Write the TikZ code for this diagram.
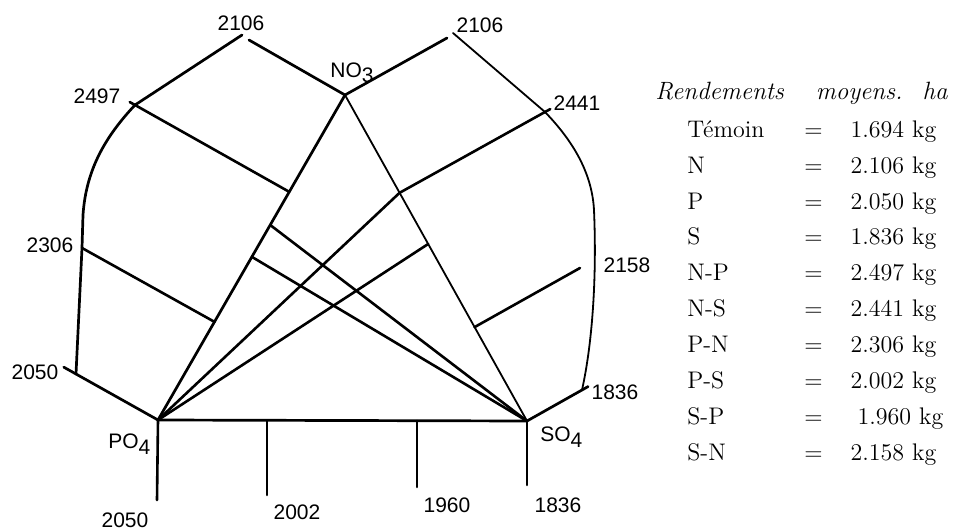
\documentclass[tikz,border=0pt]{standalone}
\usepackage{fontspec}
\newfontfamily\handfont{Liberation Sans}
\usetikzlibrary{calc}

\begin{document}
\begin{tikzpicture}[x=0.5pt,y=-0.5pt,line cap=round,line join=round,
    frame/.style={line width=1.35pt},
    ray/.style={line width=1.3pt},
    thinside/.style={line width=0.9pt},
    yieldlbl/.style={font=\handfont\fontsize{10.5}{12}\selectfont,inner sep=0pt},
    ionlbl/.style={font=\handfont\fontsize{10.5}{12}\selectfont,inner sep=0pt,anchor=base west}]
  \useasboundingbox (0,0) rectangle (955,530);
  %% Triangle NO3 / PO4 / SO4
  \coordinate (no3) at (345,95);
  \coordinate (po4) at (158,420);
  \coordinate (so4) at (527,421);
  %% Points on the sides
  \coordinate (np1) at ($(no3)!0.298!(po4)$);
  \coordinate (np2) at ($(no3)!0.40!(po4)$);
  \coordinate (np3) at ($(no3)!0.498!(po4)$);
  \coordinate (np4) at ($(no3)!0.698!(po4)$);
  \coordinate (ns1) at ($(no3)!0.30!(so4)$);
  \coordinate (ns2) at ($(no3)!0.457!(so4)$);
  \coordinate (ns3) at ($(no3)!0.712!(so4)$);
  \coordinate (ps1) at (267,421);
  \coordinate (ps2) at (417,421);
  %% Outer points
  \coordinate (nLeft) at (249,40);
  \coordinate (nLeftB) at (242,35);
  \coordinate (nRight) at (447,38);
  \coordinate (nRightB) at (453,33);
  \coordinate (npOut) at (135,105);
  \coordinate (pnOut) at (82,248);
  \coordinate (pOut) at (76,374);
  \coordinate (nsOut) at (545,112);
  \coordinate (snOut) at (580,268);
  \coordinate (sOut) at (582,390);
  \coordinate (pDown) at (157,500);
  \coordinate (ps1Down) at (267,495);
  \coordinate (ps2Down) at (417,487);
  \coordinate (sDown) at (527,485);

  %% Sides
  \draw[frame] (po4) -- (no3);
  \draw[thinside] (no3) -- (so4);
  \draw[frame] (po4) -- (so4);
  %% Outline
  \draw[frame] (no3) -- (nLeft);
  \draw[frame] (nLeftB) -- (npOut)
    .. controls (105,137) and (86,170) .. (83,215) -- (pnOut) -- (pOut);
  \draw[frame,shorten >=-7pt] (po4) -- (pOut);
  \draw[frame] (no3) -- (nRight);
  \draw[thinside] (nRightB) -- (nsOut)
    .. controls (572,140) and (592,172) .. (594,210)
    .. controls (597,280) and (592,345) .. (sOut);
  \draw[frame,shorten >=-3.5pt] (so4) -- (sOut);
  %% Rays to the outline
  \draw[ray,shorten >=-3pt] (np1) -- (npOut);
  \draw[ray] (np4) -- (pnOut);
  \draw[ray,shorten >=-3pt] (ns1) -- (nsOut);
  \draw[ray] (ns3) -- (snOut);
  %% Crossing rays
  \draw[ray] (po4) -- (ns1);
  \draw[ray] (po4) -- (ns2);
  \draw[ray] (so4) -- (np2);
  \draw[ray] (so4) -- (np3);
  %% Bottom ticks
  \draw[ray] (po4) -- (pDown);
  \draw[ray] (ps1) -- (ps1Down);
  \draw[ray] (ps2) -- (ps2Down);
  \draw[ray] (so4) -- (sDown);

  %% Labels
  \node[yieldlbl] (v2106a) at (241,23) {2106};
  \node[yieldlbl] (v2106b) at (480,25) {2106};
  \node[yieldlbl] (v2497) at (97,96) {2497};
  \node[yieldlbl] (v2441) at (577,103) {2441};
  \node[yieldlbl] (v2306) at (50,245) {2306};
  \node[yieldlbl] (v2158) at (627,265) {2158};
  \node[yieldlbl] (v2050a) at (35,372) {2050};
  \node[yieldlbl] (v1836a) at (615,392) {1836};
  \node[yieldlbl] (v2050b) at (125,520) {2050};
  \node[yieldlbl] (v2002) at (297,512) {2002};
  \node[yieldlbl] (v1960) at (447,505) {1960};
  \node[yieldlbl] (v1836b) at (558,505) {1836};
  \node[ionlbl] (no3lbl) at (330,77) {NO\raisebox{-2.5pt}{3}};
  \node[ionlbl] (po4lbl) at (108,448) {PO\raisebox{-3pt}{4}};
  \node[ionlbl] (so4lbl) at (540,441) {SO\raisebox{-3pt}{4}};

  %% Table
  \node[anchor=base west,inner sep=0pt,font=\fontsize{12.5}{14}\selectfont\itshape]
        (title) at (655,99) {Rendements\hspace{16pt}moyens.\hspace{10pt}ha};
  \node[anchor=base west,inner sep=0pt,font=\fontsize{12}{18}\selectfont]
        (yields) at (687,137)
        {\begin{tabular}[t]{@{}p{58.5pt}@{}c@{\hspace{14pt}}r@{\hspace{4pt}}l@{}}
          Témoin & $=$ & 1.694 & kg\\
          N      & $=$ & 2.106 & kg\\
          P      & $=$ & 2.050 & kg\\
          S      & $=$ & 1.836 & kg\\
          N-P    & $=$ & 2.497 & kg\\
          N-S    & $=$ & 2.441 & kg\\
          P-N    & $=$ & 2.306 & kg\\
          P-S    & $=$ & 2.002 & kg\\
          S-P    & $=$ & 1.960\hspace{-3.5pt} & \hspace{3.5pt}kg\\
          S-N    & $=$ & 2.158 & kg
        \end{tabular}};
\end{tikzpicture}
\end{document}
